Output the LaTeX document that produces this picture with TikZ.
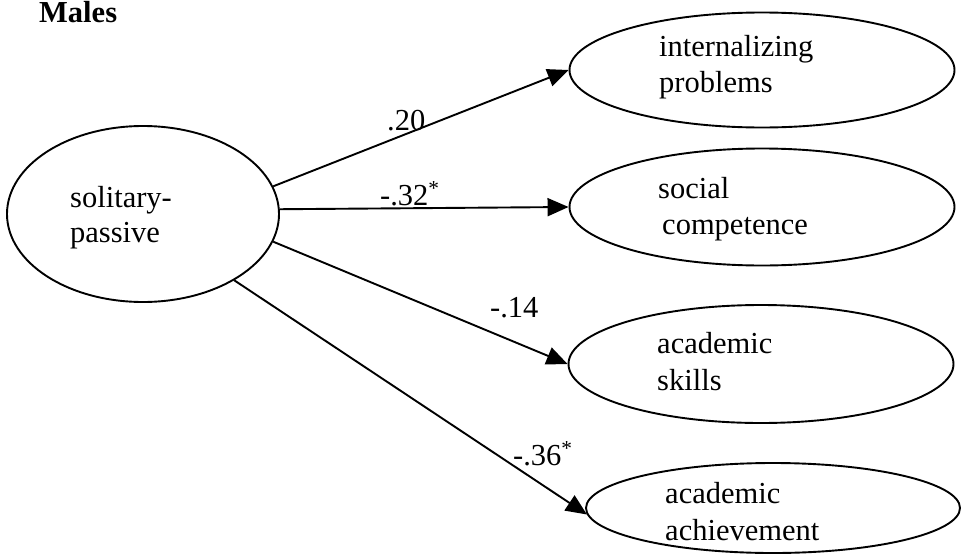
\documentclass[tikz,border=0pt]{standalone}
\usepackage{fontspec}
\setmainfont{Liberation Serif}
\usetikzlibrary{shapes.geometric,arrows.meta}
\begin{document}
\begin{tikzpicture}[x=1pt,y=-1pt,
  oval/.style={ellipse,draw,line width=1.9pt,inner sep=0pt},
  txt/.style={anchor=base west,inner sep=0pt,font=\fontsize{30.5}{35}\selectfont},
  path/.style={line width=1.9pt,-{Triangle[length=21pt,width=18pt]}}]
\useasboundingbox (0,0) rectangle (961,557);

% title
\node[txt,font=\fontsize{30.5}{35}\selectfont\bfseries] (title) at (39,22) {Males};

% latent variables
\node[oval,minimum width=272pt,minimum height=176pt] (sp)  at (143,214) {};
\node[oval,minimum width=385pt,minimum height=115pt] (ip)  at (762,70)  {};
\node[oval,minimum width=385pt,minimum height=117pt] (sc)  at (762,207) {};
\node[oval,minimum width=385pt,minimum height=118pt] (ask) at (761,364) {};
\node[oval,minimum width=374pt,minimum height=90pt]  (ach) at (773,508) {};

% variable names
\node[txt] (sp1)  at (70,207)  {solitary-};
\node[txt] (sp2)  at (70,242)  {passive};
\node[txt] (ip1)  at (659,56)  {internalizing};
\node[txt] (ip2)  at (659,92)  {problems};
\node[txt] (sc1)  at (658,198) {social};
\node[txt] (sc2)  at (662,234) {competence};
\node[txt] (ask1) at (657,353) {academic};
\node[txt] (ask2) at (657,390) {skills};
\node[txt] (ach1) at (665,503) {academic};
\node[txt] (ach2) at (665,540) {achievement};

% paths
\draw[path] (sp.12.4)  -- (ip.west);
\draw[path] (sp.2.9)   -- (sc.west);
\draw[path] (sp.-12.8) -- (ask.west);
\draw[path] (sp.-36.3) -- (ach.182.7);

% path coefficients
\node[txt] (c1) at (387,130) {.20};
\node[txt] (c2) at (380,205) {-.32\textsuperscript{*}};
\node[txt] (c3) at (490,317) {-.14};
\node[txt] (c4) at (513,465) {-.36\textsuperscript{*}};
\end{tikzpicture}
\end{document}
